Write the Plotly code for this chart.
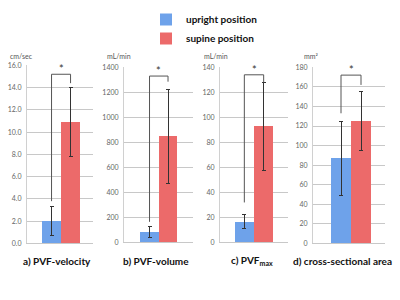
import plotly.graph_objects as go

# ---- data ----
panels = ["a", "b", "c", "d"]
panel_labels = ["a) PVF-velocity", "b) PVF-volume", "c) PVF<sub>max</sub>", "d) cross-sectional area"]
units = ["cm/sec", "mL/min", "mL/min", "mm²"]
upright = [2.0, 85, 16.5, 87]
upright_err = [1.3, 45, 5.5, 37.5]
supine = [10.9, 850, 92.5, 125]
supine_err = [3.1, 375, 35, 30]
y_max = [16, 1400, 140, 180]
y_dtick = [2, 200, 20, 20]
y_fmt = [".1f", "d", "d", "d"]
bracket_top = [15.2, 1330, 134, 172]
bracket_left_bottom = [3.8, 165, 32, 133]
bracket_right_bottom = [14.4, 1285, 128, 162]

# ---- layout geometry (pixels on a 400x300 page) ----
W, H = 400, 300
x_dom_px = [(27, 93), (124, 193), (220, 288), (313, 385)]
y_dom_px = [(62, 245), (64, 244), (64, 244), (64, 245)]
x_ranges = [(-1.29, 2.18), (-1.38, 2.35), (-1.26, 2.26), (-1.4, 2.2)]
unit_x_px = [8, 105, 202, 302]
label_x_px = [57, 155.5, 252, 342]

BLUE = "#6ea2ea"
RED = "#ec6a6a"
FONT = "Lato"

fig = go.Figure()
layout = {}
for i in range(4):
    xa = "x" if i == 0 else f"x{i+1}"
    ya = "y" if i == 0 else f"y{i+1}"
    fig.add_trace(go.Bar(
        x=[0], y=[upright[i]], width=[1], marker=dict(color=BLUE, line=dict(width=0)),
        error_y=dict(type="data", array=[upright_err[i]], color="#333", thickness=1, width=2),
        name="upright position", showlegend=(i == 0), legendgroup="u",
        xaxis=xa, yaxis=ya))
    fig.add_trace(go.Bar(
        x=[1], y=[supine[i]], width=[1], marker=dict(color=RED, line=dict(width=0)),
        error_y=dict(type="data", array=[supine_err[i]], color="#333", thickness=1, width=2),
        name="supine position", showlegend=(i == 0), legendgroup="s",
        xaxis=xa, yaxis=ya))
    # significance bracket
    fig.add_trace(go.Scatter(
        x=[0, 0, 1, 1],
        y=[bracket_left_bottom[i], bracket_top[i], bracket_top[i], bracket_right_bottom[i]],
        mode="lines", line=dict(color="#555", width=1), showlegend=False,
        hoverinfo="skip", xaxis=xa, yaxis=ya))
    fig.add_annotation(x=0.5, y=bracket_top[i], xref=xa, yref=ya, text="*",
                       showarrow=False, yanchor="bottom", yshift=-3,
                       font=dict(family=FONT, size=11, color="#333"))
    x0, x1 = x_dom_px[i]
    yt, yb = y_dom_px[i]
    kx = "xaxis" if i == 0 else f"xaxis{i+1}"
    ky = "yaxis" if i == 0 else f"yaxis{i+1}"
    layout[kx] = dict(domain=[x0 / W, x1 / W], range=list(x_ranges[i]), anchor=ya,
                      showgrid=False, zeroline=False, showticklabels=False,
                      showline=True, linecolor="#c8c8c8", linewidth=1)
    layout[ky] = dict(domain=[(H - yb) / H, (H - yt) / H], range=[0, y_max[i]], anchor=xa,
                      dtick=y_dtick[i], tickformat=y_fmt[i], showgrid=True,
                      gridcolor="#c8c8c8", gridwidth=1, zeroline=False,
                      showline=True, linecolor="#d0d0d0", linewidth=1,
                      ticks="", ticklabelstandoff=3,
                      tickfont=dict(family=FONT, size=7, color="#666"))
    fig.add_annotation(x=unit_x_px[i] / W, y=(H - 52) / H, xref="paper", yref="paper",
                       text=units[i], showarrow=False, xanchor="left", yanchor="middle",
                       font=dict(family=FONT, size=7, color="#555"))
    fig.add_annotation(x=label_x_px[i] / W, y=(H - 263) / H, xref="paper", yref="paper",
                       text="<b>" + panel_labels[i] + "</b>", showarrow=False,
                       xanchor="center", yanchor="middle",
                       font=dict(family=FONT, size=10, color="#111"))

fig.update_layout(
    width=W, height=H, margin=dict(l=0, r=0, t=0, b=0),
    paper_bgcolor="white", plot_bgcolor="white",
    barmode="overlay", bargap=0,
    showlegend=True, hovermode=False,
    legend=dict(x=146 / W, y=1.0, xanchor="left", yanchor="top",
                font=dict(family=FONT, size=10, color="#111", weight="bold"),
                tracegroupgap=0, itemwidth=30, bgcolor="rgba(0,0,0,0)"),
    **layout)

fig.write_html("out.html", config={"displayModeBar": False})
# remove default page margin so the figure sits at the window's top-left corner
with open("out.html", encoding="utf-8") as f:
    html = f.read()
html = html.replace("<body>", '<body style="margin:0;padding:0;overflow:hidden">', 1)
with open("out.html", "w", encoding="utf-8") as f:
    f.write(html)
